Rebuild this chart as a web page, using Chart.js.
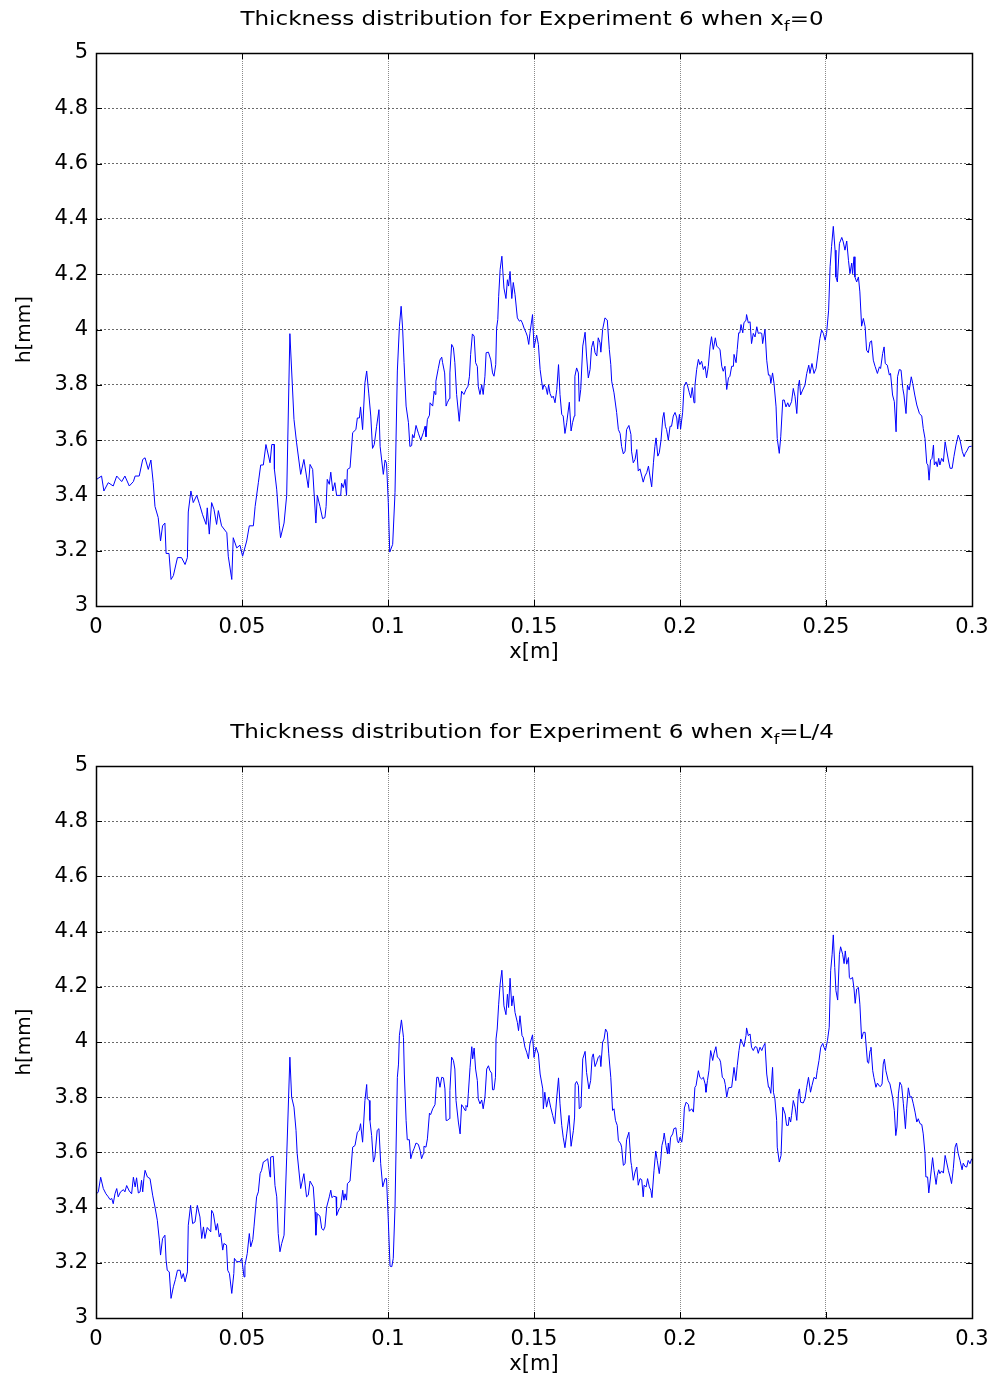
<!DOCTYPE html>
<html>
<head>
<meta charset="utf-8">
<script src="https://cdn.jsdelivr.net/npm/chart.js@4.4.1/dist/chart.umd.min.js"></script>
<style>
  html, body { margin: 0; padding: 0; background: #fff; }
  #wrap { position: relative; width: 997px; height: 1380px; }
  canvas { position: absolute; left: 0; }
</style>
</head>
<body>
<div id="wrap">
  <canvas id="chartTop" width="997" height="668" style="top:0;width:997px;height:668px"></canvas>
  <canvas id="chartBottom" width="997" height="712" style="top:668px;width:997px;height:712px"></canvas>
</div>
<script>
// thickness profiles, [x in m, h in mm]
const profileTop = [
	[0.0002,3.458],[0.0019,3.47],[0.0027,3.416],[0.0042,3.446],[0.0059,3.434],[0.0071,3.47],[0.0088,3.45],[0.0099,3.47],
	[0.0114,3.434],[0.0128,3.45],[0.0134,3.47],[0.0148,3.47],[0.0160,3.53],[0.0168,3.536],[0.0179,3.494],[0.0188,3.528],
	[0.0196,3.446],[0.0202,3.36],[0.0213,3.32],[0.0221,3.235],[0.0228,3.29],[0.0236,3.30],[0.0240,3.19],[0.0250,3.19],
	[0.0257,3.096],[0.0265,3.11],[0.0279,3.175],[0.0293,3.175],[0.0305,3.15],[0.0313,3.175],[0.0316,3.34],[0.0325,3.416],
	[0.0333,3.374],[0.0345,3.40],[0.0354,3.37],[0.0365,3.33],[0.0377,3.295],[0.0381,3.355],[0.0388,3.26],[0.0396,3.374],
	[0.0404,3.35],[0.0413,3.295],[0.0419,3.345],[0.0430,3.29],[0.0448,3.265],[0.0453,3.18],[0.0465,3.096],[0.0470,3.247],
	[0.0482,3.21],[0.0493,3.22],[0.0502,3.18],[0.0516,3.235],[0.0525,3.29],[0.0539,3.29],[0.0545,3.36],[0.0556,3.446],
	[0.0564,3.51],[0.0573,3.51],[0.0582,3.584],[0.0596,3.518],[0.0602,3.584],[0.0610,3.584],[0.0611,3.494],[0.0619,3.42],
	[0.0628,3.29],[0.0632,3.247],[0.0644,3.30],[0.0653,3.40],[0.0664,3.985],[0.0678,3.675],[0.0687,3.59],[0.0701,3.476],
	[0.0712,3.53],[0.0727,3.428],
	[0.0733,3.512],[0.0742,3.494],[0.0753,3.30],[0.0758,3.40],[0.0767,3.36],[0.0776,3.316],[0.0784,3.32],[0.0788,3.36],
	[0.0792,3.458],[0.0799,3.44],[0.0804,3.484],[0.0811,3.416],[0.0818,3.446],[0.0824,3.40],[0.0838,3.40],[0.0841,3.444],
	[0.0847,3.428],[0.0853,3.458],[0.0858,3.40],[0.0861,3.494],[0.0870,3.50],[0.0879,3.627],[0.0890,3.638],[0.0895,3.68],
	[0.0902,3.68],[0.0906,3.72],[0.0913,3.638],[0.0921,3.807],[0.0927,3.85],[0.0934,3.77],[0.0941,3.687],[0.0947,3.57],
	[0.0953,3.584],[0.0961,3.65],[0.0969,3.71],[0.0973,3.577],[0.0984,3.476],[0.0990,3.528],[0.0995,3.516],[0.1001,3.374],
	[0.1006,3.195],[0.1016,3.223],[0.1024,3.41],[0.1032,3.85],[0.1039,4.01],[0.1045,4.084],[0.1050,4.005],[0.1055,3.88],
	[0.1062,3.723],[0.1070,3.663],[0.1075,3.577],[0.1081,3.58],[0.1084,3.62],[0.1089,3.608],[0.1096,3.653],[0.1104,3.625],
	[0.1112,3.60],[0.1121,3.627],[0.1127,3.65],[0.1130,3.612],[0.1135,3.675],[0.1142,3.69],[0.1144,3.735],[0.1153,3.723],
	[0.1158,3.777],[0.1162,3.765],[0.1164,3.813],[0.1172,3.858],[0.1178,3.89],[0.1184,3.90],[0.1187,3.88],[0.1194,3.843],
	[0.1199,3.723],[0.1203,3.735],[0.1210,3.75],[0.1212,3.843],[0.1218,3.946],[0.1224,3.934],[0.1229,3.88],[0.1235,3.765],
	[0.1244,3.668],[0.1252,3.777],[0.1260,3.765],[0.1267,3.783],[0.1274,3.795],[0.1279,3.831],[0.1283,3.91],[0.1289,3.984],
	[0.1295,3.976],[0.1300,3.88],[0.1306,3.866],[0.1309,3.795],[0.1315,3.765],[0.1321,3.80],[0.1326,3.765],[0.1332,3.831],
	[0.1336,3.916],[0.1344,3.918],[0.1352,3.89],[0.1358,3.843],[0.1363,3.831],[0.1369,3.873],[0.1372,4.005],[0.1376,4.036],
	[0.1379,4.12],[0.1384,4.217],[0.1390,4.265],[0.1397,4.15],[0.1404,4.112],[0.1409,4.18],[0.1413,4.157],[0.1418,4.21],
	[0.1424,4.112],[0.1429,4.17],[0.1435,4.127],[0.1443,4.042],[0.1450,4.03],[0.1455,4.034],[0.1460,4.024],[0.1466,4.005],
	[0.1473,3.988],[0.1477,3.976],[0.1482,3.946],
	[0.1486,3.986],[0.1495,4.054],[0.1500,3.934],[0.1509,3.98],[0.1515,3.946],[0.1521,3.855],[0.1530,3.783],[0.1534,3.80],
	[0.1541,3.79],[0.1546,3.765],[0.1550,3.80],[0.1555,3.768],[0.1561,3.753],[0.1566,3.759],[0.1572,3.735],[0.1578,3.783],
	[0.1584,3.873],[0.1589,3.765],[0.1595,3.693],[0.1600,3.687],[0.1606,3.624],[0.1612,3.663],[0.1621,3.737],[0.1627,3.633],
	[0.1632,3.663],[0.1638,3.687],[0.1640,3.831],[0.1646,3.861],[0.1652,3.843],[0.1655,3.74],[0.1660,3.783],[0.1667,3.94],
	[0.1675,3.99],[0.1680,3.904],[0.1686,3.825],[0.1692,3.855],[0.1697,3.934],[0.1703,3.958],[0.1709,3.916],[0.1715,3.904],
	[0.1720,3.97],[0.1726,3.952],[0.1729,3.918],[0.1735,4.0],[0.1743,4.042],[0.1751,4.034],[0.1758,3.928],[0.1763,3.873],
	[0.1766,3.813],[0.1774,3.771],[0.1783,3.70],[0.1789,3.638],[0.1795,3.624],[0.1800,3.577],[0.1806,3.55],[0.1812,3.56],
	[0.1817,3.638],[0.1825,3.653],[0.1832,3.62],[0.1834,3.56],[0.1840,3.518],[0.1846,3.53],[0.1852,3.566],[0.1857,3.488],
	[0.1863,3.496],[0.1869,3.47],[0.1874,3.448],[0.1880,3.47],[0.1886,3.482],[0.1892,3.506],[0.1897,3.47],[0.1903,3.431],
	[0.1909,3.518],[0.1914,3.577],[0.1918,3.608],[0.1924,3.542],[0.1929,3.554],[0.1935,3.60],[0.1941,3.68],[0.1945,3.70],
	[0.1950,3.65],[0.1954,3.638],[0.1960,3.60],[0.1966,3.65],[0.1971,3.65],[0.1977,3.687],[0.1983,3.70],[0.1989,3.68],
	[0.1992,3.64],[0.1998,3.693],[0.2002,3.64],[0.2009,3.70],[0.2014,3.795],[0.2021,3.81],[0.2025,3.80],[0.2032,3.771],
	[0.2037,3.753],[0.2042,3.79],[0.2048,3.735],[0.2051,3.795],[0.2057,3.855],[0.2063,3.892],[0.2068,3.873],[0.2074,3.885],
	[0.2080,3.855],[0.2086,3.867],[0.2091,3.825],[0.2097,3.867],[0.2103,3.94],[0.2108,3.974],[0.2114,3.928],[0.2121,3.97],
	[0.2126,3.94],[0.2131,3.934],[0.2137,3.928],[0.2143,3.867],[0.2148,3.849],[0.2154,3.867],[0.2160,3.783],[0.2166,3.825],
	[0.2171,3.831],[0.2177,3.867],[0.2183,3.867],[0.2185,3.91],[0.2192,3.88],[0.2196,3.928],[0.2201,3.988],[0.2205,3.988],
	[0.2209,4.018],[0.2215,3.988],[0.2219,4.024],[0.2226,4.034],[0.2228,4.054],[0.2234,4.024],
	[0.2240,4.028],[0.2245,3.949],[0.2251,3.986],[0.2257,3.973],[0.2263,4.01],[0.2268,3.986],[0.2274,3.988],[0.2280,3.986],
	[0.2283,3.949],[0.2291,4.0],[0.2297,3.889],[0.2303,3.835],[0.2308,3.835],[0.2311,3.805],[0.2317,3.843],[0.2322,3.805],
	[0.2329,3.72],[0.2333,3.606],[0.2340,3.552],[0.2345,3.612],[0.2352,3.745],[0.2357,3.745],[0.2363,3.72],[0.2369,3.735],
	[0.2374,3.72],[0.2382,3.739],[0.2388,3.787],[0.2394,3.757],[0.2400,3.696],[0.2405,3.793],[0.2409,3.817],[0.2413,3.763],
	[0.2420,3.781],[0.2428,3.799],[0.2434,3.841],[0.2441,3.871],[0.2445,3.841],[0.2452,3.877],[0.2459,3.841],[0.2466,3.859],
	[0.2474,3.925],[0.2479,3.967],[0.2485,3.998],[0.2491,3.986],[0.2497,3.961],[0.2502,3.986],[0.2509,4.07],[0.2514,4.227],
	[0.2519,4.30],[0.2525,4.373],[0.2531,4.287],[0.2534,4.19],[0.2539,4.172],[0.2546,4.311],[0.2554,4.333],[0.2559,4.317],
	[0.2565,4.287],[0.2571,4.32],[0.2577,4.25],[0.2582,4.202],[0.2588,4.24],[0.2591,4.202],[0.2596,4.263],[0.2599,4.19],
	[0.2605,4.172],[0.2611,4.19],[0.2616,4.136],[0.2622,4.012],[0.2628,4.04],[0.2634,4.01],[0.2639,3.925],[0.2645,3.916],
	[0.2651,3.955],[0.2656,3.959],[0.2662,3.889],[0.2668,3.867],[0.2676,3.841],[0.2683,3.865],[0.2687,3.859],[0.2694,3.913],
	[0.2699,3.937],[0.2703,3.877],[0.2710,3.871],[0.2717,3.835],[0.2721,3.841],[0.2728,3.763],[0.2734,3.739],[0.2740,3.63],
	[0.2745,3.829],[0.2751,3.855],[0.2757,3.853],[0.2763,3.787],[0.2767,3.763],[0.2774,3.696],[0.2779,3.799],[0.2785,3.781],
	[0.2792,3.829],[0.2797,3.805],[0.2804,3.763],[0.2811,3.727],[0.2820,3.696],[0.2828,3.687],[0.2833,3.642],[0.2839,3.606],
	[0.2845,3.516],[0.2849,3.51],[0.2853,3.455],[0.2858,3.528],[0.2863,3.534],[0.2868,3.582],[0.2871,3.51],[0.2877,3.522],
	[0.2881,3.504],[0.2886,3.534],[0.2890,3.51],[0.2896,3.534],[0.2902,3.522],[0.2908,3.594],[0.2913,3.564],[0.2919,3.528],
	[0.2925,3.498],[0.2932,3.498],[0.2938,3.54],[0.2945,3.582],[0.2953,3.618],[0.2959,3.60],[0.2967,3.558],[0.2973,3.54],
	[0.2977,3.552],[0.2984,3.564],[0.2989,3.576],[0.2999,3.578]
]

const profileBottom = [
	[0.0002,3.45],[0.0008,3.457],[0.0016,3.51],[0.0025,3.469],[0.0034,3.45],[0.0042,3.439],[0.0048,3.429],[0.0054,3.433],
	[0.0059,3.414],[0.0065,3.45],[0.0071,3.469],[0.0076,3.439],[0.0084,3.457],[0.0094,3.465],[0.0099,3.457],[0.0105,3.48],
	[0.0114,3.46],[0.0122,3.45],[0.0128,3.51],[0.0134,3.475],[0.0139,3.508],[0.0145,3.453],[0.0151,3.457],[0.0156,3.499],
	[0.0160,3.457],[0.0164,3.505],[0.0168,3.535],[0.0176,3.511],[0.0185,3.505],[0.0194,3.445],[0.0202,3.402],[0.0210,3.354],
	[0.0217,3.282],[0.0221,3.228],[0.0228,3.288],[0.0236,3.30],[0.0240,3.21],[0.0244,3.173],[0.0251,3.167],[0.0257,3.071],
	[0.0265,3.113],[0.0272,3.14],[0.0279,3.173],[0.0288,3.173],[0.0293,3.143],[0.0299,3.161],[0.0305,3.131],[0.0313,3.167],
	[0.0316,3.336],[0.0324,3.408],[0.0331,3.342],[0.0339,3.348],[0.0347,3.408],[0.0356,3.366],[0.0362,3.288],[0.0368,3.33],
	[0.0373,3.288],[0.0381,3.328],[0.0393,3.312],[0.0396,3.39],[0.0402,3.378],[0.0411,3.318],[0.0416,3.342],[0.0422,3.294],
	[0.0427,3.308],[0.0434,3.246],[0.0438,3.27],[0.0447,3.264],[0.0451,3.173],[0.0457,3.161],[0.0465,3.089],[0.0472,3.161],
	[0.0474,3.216],[0.0482,3.204],[0.0493,3.204],[0.0499,3.216],[0.0507,3.149],[0.0510,3.19],[0.0518,3.234],[0.0525,3.306],
	[0.0530,3.258],[0.0537,3.284],[0.0541,3.33],[0.0550,3.439],[0.0556,3.457],[0.0562,3.523],[0.0567,3.535],[0.0573,3.565],
	[0.0582,3.571],[0.0588,3.577],[0.0596,3.511],[0.0598,3.583],[0.0607,3.586],[0.0613,3.48],[0.0619,3.439],[0.0624,3.306],
	[0.0630,3.24],[0.0636,3.27],[0.0644,3.30],[0.0653,3.583],[0.0664,3.945],[0.0670,3.80],[0.0678,3.764],[0.0685,3.68],
	[0.0689,3.595],[0.0701,3.469],[0.0712,3.523],[0.0721,3.439],[0.0727,3.445],
	[0.0733,3.496],[0.0744,3.475],[0.0750,3.384],[0.0753,3.30],[0.0758,3.378],[0.0767,3.369],[0.0773,3.324],[0.0779,3.318],
	[0.0784,3.33],[0.0790,3.402],[0.0799,3.439],[0.0804,3.463],[0.0808,3.436],[0.0813,3.441],[0.0822,3.439],[0.0824,3.372],
	[0.0833,3.396],[0.0838,3.402],[0.0845,3.463],[0.0849,3.427],[0.0853,3.45],[0.0858,3.427],[0.0861,3.487],[0.0870,3.496],
	[0.0879,3.619],[0.0887,3.625],[0.0895,3.673],[0.0902,3.68],[0.0906,3.704],[0.0913,3.637],[0.0921,3.788],[0.0927,3.846],
	[0.0929,3.794],[0.0936,3.788],[0.0938,3.716],[0.0944,3.661],[0.0950,3.565],[0.0955,3.583],[0.0963,3.68],[0.0969,3.686],
	[0.0975,3.559],[0.0982,3.475],[0.0990,3.505],[0.0995,3.505],[0.1001,3.354],[0.1007,3.188],[0.1013,3.186],[0.1018,3.216],
	[0.1024,3.402],[0.1032,3.872],[0.1036,3.92],[0.1039,4.023],[0.1046,4.08],[0.1053,4.017],[0.1056,3.884],[0.1062,3.716],
	[0.1066,3.646],[0.1073,3.646],[0.1078,3.577],[0.1084,3.601],[0.1089,3.613],[0.1096,3.634],[0.1104,3.629],[0.1110,3.607],
	[0.1115,3.577],[0.1121,3.595],[0.1123,3.622],[0.1130,3.619],[0.1135,3.649],[0.1142,3.742],[0.1146,3.737],[0.1153,3.758],
	[0.1161,3.773],[0.1167,3.872],[0.1172,3.872],[0.1178,3.836],[0.1184,3.872],[0.1190,3.87],[0.1195,3.83],[0.1199,3.716],
	[0.1203,3.716],[0.1210,3.722],[0.1212,3.824],[0.1218,3.945],[0.1224,3.933],[0.1229,3.902],[0.1233,3.788],[0.1241,3.71],
	[0.1247,3.667],[0.1252,3.773],[0.1258,3.764],[0.1264,3.752],[0.1267,3.77],[0.1272,3.764],[0.1275,3.812],[0.1281,3.908],
	[0.1287,3.983],[0.1290,3.939],[0.1295,3.978],[0.1300,3.902],[0.1306,3.86],[0.1309,3.794],[0.1315,3.776],[0.1321,3.79],
	[0.1326,3.758],[0.1332,3.80],[0.1338,3.902],[0.1344,3.914],[0.1349,3.896],[0.1355,3.887],[0.1358,3.827],[0.1363,3.827],
	[0.1368,3.872],[0.1370,4.011],[0.1374,4.047],[0.1379,4.137],[0.1384,4.21],[0.1390,4.26],[0.1397,4.131],[0.1404,4.099],
	[0.1409,4.173],[0.1413,4.125],[0.1418,4.231],[0.1424,4.131],[0.1429,4.167],[0.1435,4.107],[0.1443,4.071],[0.1447,4.041],
	[0.1452,4.095],[0.1459,4.023],[0.1463,4.017],[0.1469,3.981],[0.1475,3.963],[0.1481,3.939],
	[0.1486,3.993],[0.1495,4.026],[0.1500,3.944],[0.1507,3.981],[0.1515,3.957],[0.1521,3.884],[0.1530,3.83],[0.1532,3.758],
	[0.1537,3.818],[0.1543,3.764],[0.1550,3.80],[0.1557,3.764],[0.1564,3.734],[0.1571,3.704],[0.1578,3.80],[0.1584,3.87],
	[0.1589,3.776],[0.1595,3.698],[0.1600,3.655],[0.1606,3.617],[0.1612,3.667],[0.1620,3.734],[0.1627,3.622],[0.1635,3.68],
	[0.1639,3.728],[0.1641,3.848],[0.1646,3.857],[0.1652,3.842],[0.1655,3.758],[0.1661,3.764],[0.1667,3.939],[0.1675,3.966],
	[0.1680,3.89],[0.1688,3.83],[0.1694,3.86],[0.1699,3.945],[0.1703,3.957],[0.1709,3.911],[0.1715,3.927],[0.1720,3.945],
	[0.1726,3.951],[0.1729,3.911],[0.1735,3.999],[0.1740,4.011],[0.1745,4.047],[0.1751,4.035],[0.1756,3.957],[0.1763,3.872],
	[0.1769,3.752],[0.1774,3.758],[0.1779,3.716],[0.1785,3.698],[0.1789,3.643],[0.1797,3.631],[0.1800,3.619],[0.1806,3.553],
	[0.1812,3.559],[0.1817,3.646],[0.1825,3.673],[0.1832,3.565],[0.1834,3.553],[0.1840,3.499],[0.1846,3.529],[0.1852,3.547],
	[0.1857,3.481],[0.1863,3.505],[0.1869,3.501],[0.1874,3.439],[0.1877,3.481],[0.1884,3.475],[0.1889,3.505],[0.1895,3.475],
	[0.1900,3.463],[0.1904,3.436],[0.1911,3.535],[0.1917,3.605],[0.1922,3.571],[0.1929,3.523],[0.1934,3.571],[0.1938,3.625],
	[0.1943,3.646],[0.1946,3.67],[0.1952,3.625],[0.1957,3.595],[0.1960,3.634],[0.1963,3.595],[0.1968,3.655],[0.1975,3.667],
	[0.1979,3.686],[0.1986,3.689],[0.1991,3.643],[0.1995,3.634],[0.2000,3.655],[0.2006,3.637],[0.2011,3.68],[0.2015,3.761],
	[0.2021,3.782],[0.2029,3.773],[0.2032,3.749],[0.2040,3.758],[0.2046,3.746],[0.2051,3.836],[0.2055,3.842],[0.2063,3.896],
	[0.2068,3.872],[0.2074,3.866],[0.2080,3.872],[0.2086,3.848],[0.2089,3.818],[0.2094,3.86],[0.2099,3.896],[0.2105,3.969],
	[0.2112,3.933],[0.2116,3.957],[0.2123,3.983],[0.2128,3.945],[0.2135,3.939],[0.2139,3.927],[0.2145,3.872],[0.2151,3.866],
	[0.2155,3.846],[0.2160,3.80],[0.2166,3.834],[0.2177,3.836],[0.2185,3.908],[0.2191,3.86],[0.2196,3.914],[0.2202,3.969],
	[0.2208,4.011],[0.2213,3.999],[0.2219,3.983],[0.2226,4.023],[0.2228,4.051],[0.2234,4.023],
	[0.2240,4.029],[0.2245,3.981],[0.2251,3.969],[0.2257,3.983],[0.2263,3.981],[0.2268,3.959],[0.2274,3.981],[0.2280,3.969],
	[0.2285,3.983],[0.2291,3.995],[0.2297,3.884],[0.2303,3.836],[0.2306,3.836],[0.2311,3.814],[0.2317,3.908],[0.2320,3.818],
	[0.2325,3.794],[0.2331,3.716],[0.2333,3.619],[0.2340,3.565],[0.2346,3.589],[0.2352,3.764],[0.2360,3.739],[0.2365,3.698],
	[0.2371,3.698],[0.2374,3.728],[0.2379,3.71],[0.2382,3.734],[0.2388,3.788],[0.2394,3.764],[0.2400,3.716],[0.2405,3.812],
	[0.2409,3.83],[0.2413,3.782],[0.2422,3.779],[0.2428,3.794],[0.2434,3.836],[0.2440,3.872],[0.2447,3.818],[0.2452,3.842],
	[0.2459,3.872],[0.2466,3.866],[0.2470,3.896],[0.2476,3.933],[0.2482,3.981],[0.2489,3.995],[0.2493,3.981],[0.2498,3.969],
	[0.2505,4.005],[0.2511,4.053],[0.2516,4.258],[0.2521,4.318],[0.2525,4.388],[0.2530,4.27],[0.2534,4.186],[0.2540,4.152],
	[0.2546,4.318],[0.2550,4.345],[0.2557,4.318],[0.2562,4.284],[0.2566,4.33],[0.2571,4.282],[0.2577,4.306],[0.2580,4.234],
	[0.2584,4.228],[0.2591,4.234],[0.2596,4.192],[0.2600,4.14],[0.2605,4.192],[0.2611,4.198],[0.2616,4.137],[0.2622,4.011],
	[0.2628,4.035],[0.2634,4.035],[0.2637,3.993],[0.2642,3.927],[0.2646,3.923],[0.2651,3.969],[0.2654,3.981],[0.2660,3.896],
	[0.2664,3.872],[0.2671,3.836],[0.2676,3.851],[0.2683,3.84],[0.2687,3.839],[0.2692,3.848],[0.2696,3.92],[0.2700,3.938],
	[0.2705,3.896],[0.2713,3.86],[0.2719,3.848],[0.2728,3.80],[0.2734,3.752],[0.2739,3.661],[0.2743,3.692],[0.2748,3.812],
	[0.2753,3.854],[0.2759,3.842],[0.2765,3.776],[0.2772,3.686],[0.2776,3.758],[0.2782,3.834],[0.2788,3.80],[0.2793,3.802],
	[0.2799,3.776],[0.2805,3.746],[0.2811,3.71],[0.2816,3.722],[0.2822,3.704],[0.2828,3.701],[0.2833,3.667],[0.2839,3.595],
	[0.2842,3.511],[0.2848,3.511],[0.2852,3.453],[0.2858,3.511],[0.2865,3.581],[0.2870,3.535],[0.2877,3.484],[0.2881,3.517],
	[0.2886,3.537],[0.2890,3.523],[0.2896,3.533],[0.2902,3.525],[0.2908,3.589],[0.2913,3.565],[0.2919,3.535],[0.2925,3.511],
	[0.2930,3.487],[0.2936,3.541],[0.2942,3.619],[0.2947,3.634],[0.2953,3.595],[0.2959,3.571],[0.2966,3.537],[0.2970,3.561],
	[0.2976,3.549],[0.2982,3.547],[0.2987,3.571],[0.2993,3.559],[0.2999,3.577]
]

const xTickLabels = ['0', '0.05', '0.1', '0.15', '0.2', '0.25', '0.3']
const yTickLabels = ['3', '3.2', '3.4', '3.6', '3.8', '4', '4.2', '4.4', '4.6', '4.8', '5']
const titleMain = 'Thickness distribution for Experiment 6 when x'
const titleSub = 'f'
const titleEnds = ['=0', '=L/4']

const FONT = 'DejaVu Sans'

// black box, inward ticks on all four sides and the title with its subscript
const matlabAxes = {
	id: 'matlabAxes',
	afterDraw(chart, args, opts) {
		const { ctx, chartArea: a, scales: { x, y } } = chart
		ctx.save()
		ctx.strokeStyle = '#000'
		ctx.lineWidth = 1
		ctx.beginPath()
		x.ticks.forEach(t => {
			const px = Math.round(x.getPixelForValue(t.value)) + 0.5
			ctx.moveTo(px, a.bottom)
			ctx.lineTo(px, a.bottom - 6)
			ctx.moveTo(px, a.top)
			ctx.lineTo(px, a.top + 6)
		})
		y.ticks.forEach(t => {
			const py = Math.round(y.getPixelForValue(t.value)) + 0.5
			ctx.moveTo(a.left, py)
			ctx.lineTo(a.left + 6, py)
			ctx.moveTo(a.right, py)
			ctx.lineTo(a.right - 6, py)
		})
		ctx.stroke()
		ctx.lineWidth = 1.5
		ctx.strokeRect(Math.round(a.left) + 0.5, Math.round(a.top) + 0.5, Math.round(a.right - a.left), Math.round(a.bottom - a.top))

		// title is a little wider than the font, as in the original figure
		const big = '20px "' + FONT + '"'
		const small = '14px "' + FONT + '"'
		ctx.fillStyle = '#000'
		ctx.textBaseline = 'middle'
		ctx.textAlign = 'left'
		ctx.font = big
		const w1 = ctx.measureText(opts.main).width
		const w3 = ctx.measureText(opts.end).width
		ctx.font = small
		const w2 = ctx.measureText(opts.sub).width
		ctx.translate((a.left + a.right) / 2 - 2, a.top - 33)
		ctx.scale(1.15, 1)
		const sx = -(w1 + w2 + w3) / 2
		ctx.font = big
		ctx.fillText(opts.main, sx, 0)
		ctx.font = small
		ctx.fillText(opts.sub, sx + w1, 7)
		ctx.font = big
		ctx.fillText(opts.end, sx + w1 + w2, 0)
		ctx.restore()
	},
}

const makeChart = (target, profile, titleEnd, padTop) => {
	new Chart(target, {
		type: 'line',
		data: {
			datasets: [
				{
					data: profile.map(p => ({ x: p[0], y: p[1] })),
					borderColor: '#0000ff',
					borderWidth: 1,
					pointRadius: 0,
					tension: 0,
					fill: false,
				},
			],
		},
		options: {
			responsive: false,
			animation: false,
			devicePixelRatio: 1,
			layout: { padding: { top: padTop, right: 25, left: 0, bottom: 0 } },
			plugins: {
				legend: { display: false },
				tooltip: { enabled: false },
				matlabAxes: { main: titleMain, sub: titleSub, end: titleEnd },
			},
			scales: {
				x: {
					type: 'linear',
					min: 0,
					max: 0.3,
					ticks: {
						stepSize: 0.05,
						color: '#000',
						padding: 9,
						maxRotation: 0,
						autoSkip: false,
						font: { family: FONT, size: 21 },
						callback: (v, i) => xTickLabels[i],
					},
					grid: { color: '#8a8a8a', drawTicks: false },
					border: { display: false, dash: [1, 1] },
					title: { display: true, text: 'x[m]', color: '#000', font: { family: FONT, size: 21 }, padding: { top: 0, bottom: 3 } },
					afterFit: s => {
						s.height = 62
						s.paddingLeft = 0
						s.paddingRight = 0
					},
				},
				y: {
					min: 3,
					max: 5,
					ticks: {
						stepSize: 0.2,
						color: '#000',
						padding: 8,
						autoSkip: false,
						font: { family: FONT, size: 21 },
						callback: (v, i) => yTickLabels[i],
					},
					grid: { color: '#6a6a6a', drawTicks: false },
					border: { display: false, dash: [2, 2] },
					title: { display: true, text: 'h[mm]', color: '#000', font: { family: FONT, size: 20 }, padding: { top: 13, bottom: 0 } },
					afterFit: s => {
						s.width = 96
						s.paddingTop = 0
						s.paddingBottom = 0
					},
				},
			},
		},
		plugins: [matlabAxes],
	})
}

makeChart(document.getElementById('chartTop'), profileTop, titleEnds[0], 53)
makeChart(document.getElementById('chartBottom'), profileBottom, titleEnds[1], 98)
</script>
</body>
</html>
